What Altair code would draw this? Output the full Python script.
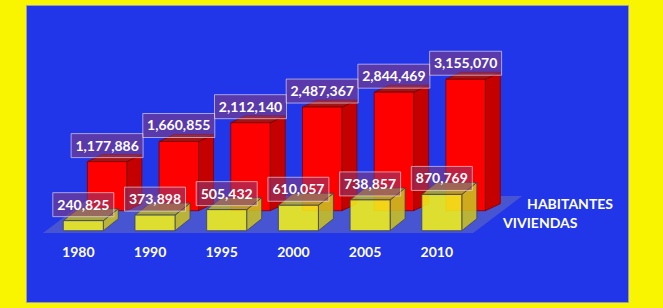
import altair as alt
import pandas as pd

# ---- data ----
years = ["1980", "1990", "1995", "2000", "2005", "2010"]
habitantes = [1177886, 1660855, 2112140, 2487367, 2844469, 3155070]
viviendas = [240825, 373898, 505432, 610057, 738857, 870769]
series_names = ["HABITANTES", "VIVIENDAS"]

# ---- geometry (pixel-based constants for the pseudo-3D look) ----
W, H = 602, 297
SLOT = 71.7      # px between categories
X0 = 57.3        # px from view left to first front-row bar centre
VPX = 24000.0    # value units per px
BASE = 225.7     # px from view top to front-row baseline


def ux(px):
    return px / SLOT


def uy(px):
    return px * VPX


x_scale = alt.Scale(domain=[-X0 / SLOT, (W - X0) / SLOT], nice=False, zero=False)
y_scale = alt.Scale(domain=[-(H - BASE) * VPX, BASE * VPX], nice=False, zero=False)

cfg = {
    "HABITANTES": dict(values=habitantes, xshift=23.8, base=20.0, hw=19.7, dx=15, dy=7,
                       front="#FF0000", side="#C40000", top="#A31414", stroke="#7a0000",
                       opacity=1.0, boxhw=36),
    "VIVIENDAS": dict(values=viviendas, xshift=0.0, base=0.0, hw=20.0, dx=15, dy=12,
                      front="#F2F21A", side="#C9C222", top="#B3AE2E", stroke="#3a3f55",
                      opacity=0.88, boxhw=30.5),
}


def X(field):
    return alt.X(field, type="quantitative", scale=x_scale, axis=None)


def Y(field):
    return alt.Y(field, type="quantitative", scale=y_scale, axis=None)


def bars(name):
    c = cfg[name]
    front, side, top, lab = [], [], [], []
    for i, (yr, v) in enumerate(zip(years, c["values"])):
        xc = i + ux(c["xshift"])
        xl, xr = xc - ux(c["hw"]), xc + ux(c["hw"])
        y0 = uy(c["base"])
        y1 = y0 + v
        ddx, ddy = ux(c["dx"]), uy(c["dy"])
        front.append(dict(year=yr, xl=xl, xr=xr, y0=y0, y1=y1))
        side.append(dict(year=yr, x=xr, ytop=y1, ybot=y0))
        side.append(dict(year=yr, x=xr + ddx, ytop=y1 + ddy, ybot=y0 + ddy))
        top.append(dict(year=yr, y=y1, xa=xl, xb=xr))
        top.append(dict(year=yr, y=y1 + ddy, xa=xl + ddx, xb=xr + ddx))
        lab.append(dict(year=yr, xc=xc, yl=y1 + uy(16), value=v))
    sk = dict(stroke=c["stroke"], strokeWidth=0.8, opacity=c["opacity"])
    side_l = alt.Chart(pd.DataFrame(side)).mark_area(orient="vertical", color=c["side"], **sk).encode(
        x=X("x"), y=Y("ytop"), y2="ybot", detail="year:N")
    top_l = alt.Chart(pd.DataFrame(top)).mark_area(orient="horizontal", color=c["top"], **sk).encode(
        y=Y("y"), x=X("xa"), x2="xb", detail="year:N")
    front_l = alt.Chart(pd.DataFrame(front)).mark_rect(color=c["front"], **sk).encode(
        x=X("xl"), x2="xr", y=Y("y0"), y2="y1")
    ldf = pd.DataFrame(lab)
    box = alt.Chart(ldf).mark_rect(
        fill="#8a3c78", fillOpacity=0.55, stroke="#ffffff", strokeOpacity=0.55, strokeWidth=1,
        xOffset=-c["boxhw"], x2Offset=c["boxhw"], yOffset=-12, y2Offset=12,
    ).encode(x=X("xc"), x2="xc", y=Y("yl"), y2="yl")
    txt = alt.Chart(ldf).mark_text(
        font="Lato", fontWeight="bold", fontSize=14, color="white", align="center", baseline="middle", dy=1
    ).encode(x=X("xc"), y=Y("yl"), text=alt.Text("value:Q", format=","))
    return [side_l, top_l, front_l], [box, txt]


# floor
n = len(years)
floor_df = pd.DataFrame([
    dict(y=uy(-2.3), xa=ux(-40.3), xb=(n - 1) + ux(31.3)),
    dict(y=uy(34.7), xa=ux(-40.3 + 49), xb=(n - 1) + ux(31.3 + 49)),
])
floor = alt.Chart(floor_df).mark_area(orient="horizontal", color="#6a70c0", opacity=0.55).encode(
    y=Y("y"), x=X("xa"), x2="xb")

hab_bars, hab_labels = bars("HABITANTES")
viv_bars, viv_labels = bars("VIVIENDAS")

year_df = pd.DataFrame(dict(year=years, xi=[i + ux(-5) for i in range(n)], yy=[uy(-22)] * n))
year_txt = alt.Chart(year_df).mark_text(
    font="Lato", fontWeight="bold", fontSize=14, color="white", align="center", baseline="middle"
).encode(x=X("xi"), y=Y("yy"), text="year:N")

leg_df = pd.DataFrame(dict(
    name=series_names,
    lx=[(n - 1) + ux(85.3), (n - 1) + ux(61.3)],
    ly=[uy(25.7), uy(6.7)],
))
leg_txt = alt.Chart(leg_df).mark_text(
    font="Lato", fontWeight="bold", fontSize=14, color="white", align="left", baseline="middle"
).encode(x=X("lx"), y=Y("ly"), text="name:N")

chart = alt.layer(
    floor, *hab_bars, *viv_bars, *hab_labels, *viv_labels, year_txt, leg_txt
).properties(
    width=W, height=H, background="#F9F400",
    padding={"left": 26, "top": 5, "right": 35, "bottom": 6},
    autosize=alt.AutoSizeParams(type="none"),
).configure_view(fill="#2135E9", stroke="#9a9ab8", strokeWidth=1)

chart.save("out.html", embed_options={"renderer": "svg", "actions": False})
